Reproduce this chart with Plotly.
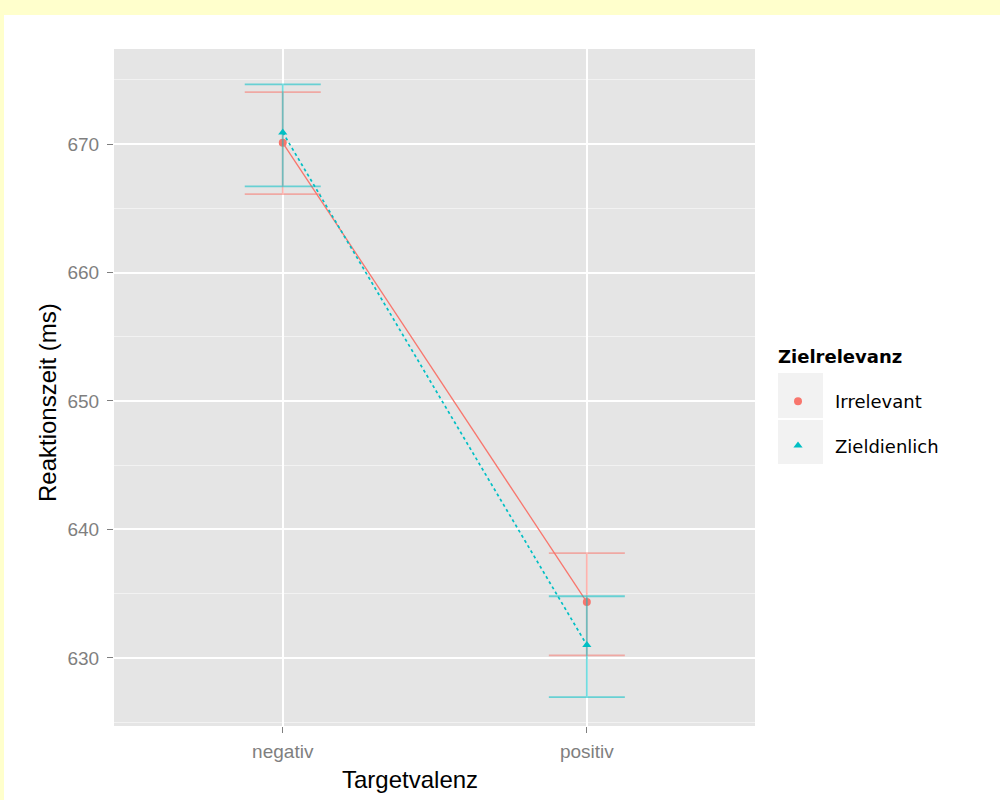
import plotly.graph_objects as go

categories = ["negativ", "positiv"]
groups = ["Irrelevant", "Zieldienlich"]
means = {"Irrelevant": [670.1, 634.35], "Zieldienlich": [670.9, 631.0]}
lower = {"Irrelevant": [666.1, 630.2], "Zieldienlich": [666.7, 626.95]}
upper = {"Irrelevant": [674.05, 638.15], "Zieldienlich": [674.65, 634.8]}
colors = {"Irrelevant": "#F8766D", "Zieldienlich": "#00BFC4"}
bar_colors = {"Irrelevant": "rgba(248,118,109,0.55)", "Zieldienlich": "rgba(0,191,196,0.55)"}
symbols = {"Irrelevant": "circle", "Zieldienlich": "triangle-up"}
dashes = {"Irrelevant": "solid", "Zieldienlich": "dot"}
y_ticks = [630, 640, 650, 660, 670]

W, H = 1000, 800
L, R, T, B = 114, 755, 49, 726

fig = go.Figure()
xs = list(range(len(categories)))
for g in groups:
    fig.add_trace(go.Scatter(
        x=xs, y=means[g], mode="lines+markers", showlegend=False,
        line=dict(color=colors[g], width=1.3 if g == "Irrelevant" else 1.7, dash=dashes[g]),
        marker=dict(color=colors[g], symbol=symbols[g], size=8),
        error_y=dict(type="data", symmetric=False,
                     array=[u - m for u, m in zip(upper[g], means[g])],
                     arrayminus=[m - l for m, l in zip(means[g], lower[g])],
                     color=bar_colors[g], thickness=1.8, width=38),
    ))
for g in groups:
    fig.add_trace(go.Scatter(
        x=[None], y=[None], mode="markers", name=g, legendgroup=g,
        marker=dict(color=colors[g], symbol=symbols[g], size=8),
    ))

# decorative frame & legend key backgrounds
shapes = [
    dict(type="rect", xref="paper", yref="paper", x0=0, x1=1, y0=1 - 15 / H, y1=1,
         fillcolor="#FFFFCC", line=dict(width=0), layer="below"),
    dict(type="rect", xref="paper", yref="paper", x0=0, x1=4 / W, y0=0, y1=1,
         fillcolor="#FFFFCC", line=dict(width=0), layer="below"),
]
for y0p, y1p in [(373, 418), (420, 464)]:
    shapes.append(dict(type="rect", xref="paper", yref="paper",
                       x0=778 / W, x1=823 / W, y0=1 - y1p / H, y1=1 - y0p / H,
                       fillcolor="#F2F2F2", line=dict(width=0), layer="below"))

annotations = [
    dict(text="<b>Zielrelevanz</b>", xref="paper", yref="paper", x=776 / W, y=1 - 356 / H,
         xanchor="left", yanchor="middle", showarrow=False,
         font=dict(family="DejaVu Sans", size=18, color="black")),
    dict(text="Targetvalenz", xref="paper", yref="paper", x=410 / W, y=1 - 779 / H,
         xanchor="center", yanchor="middle", showarrow=False,
         font=dict(family="Liberation Sans", size=24, color="black")),
    dict(text="Reaktionszeit (ms)", xref="paper", yref="paper", x=47 / W, y=1 - 403 / H,
         xanchor="center", yanchor="middle", showarrow=False, textangle=-90,
         font=dict(family="Liberation Sans", size=24, color="black")),
]

fig.update_layout(
    width=W, height=H,
    margin=dict(l=0, r=0, t=0, b=0),
    paper_bgcolor="white", plot_bgcolor="#E5E5E5",
    font=dict(family="Liberation Sans, Arial, sans-serif", color="#000000"),
    shapes=shapes, annotations=annotations,
    showlegend=True,
    legend=dict(
        font=dict(family="DejaVu Sans", size=18, color="black"),
        x=761 / W, y=1 - 383 / H, xanchor="left", yanchor="top",
        bgcolor="rgba(0,0,0,0)", tracegroupgap=18, itemwidth=64,
    ),
    xaxis=dict(
        domain=[L / W, R / W], range=[-0.555, 1.553],
        tickvals=xs, ticktext=categories,
        showgrid=True, gridcolor="white", gridwidth=1.5, zeroline=False,
        ticks="outside", ticklen=6, tickcolor="#7F7F7F", tickwidth=1,
        tickfont=dict(size=19, color="#7F7F7F"),
        ticklabelstandoff=2,
        anchor="y",
    ),
    yaxis=dict(
        domain=[1 - B / H, 1 - T / H], range=[624.7, 677.4],
        tickvals=y_ticks,
        showgrid=True, gridcolor="white", gridwidth=1.5, zeroline=False,
        minor=dict(dtick=5, tick0=625, showgrid=True, gridcolor="#F2F2F2", gridwidth=1),
        ticks="outside", ticklen=6, tickcolor="#7F7F7F", tickwidth=1,
        tickfont=dict(size=19, color="#7F7F7F"),
        ticklabelstandoff=4,
        anchor="x",
    ),
)

fig.write_html("out.html", config={"displayModeBar": False},
               post_script="document.body.style.margin='0';")
